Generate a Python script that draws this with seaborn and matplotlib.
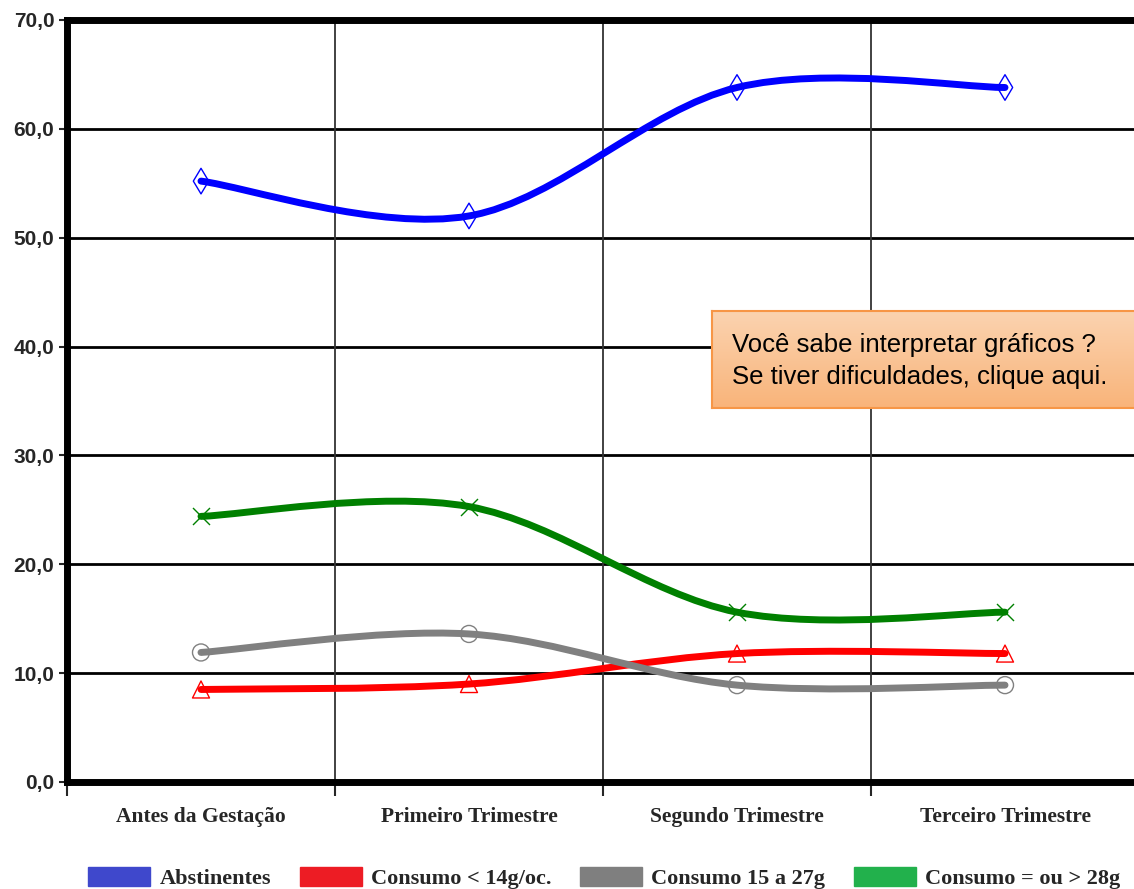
import numpy as np
import pandas as pd
import seaborn as sns
import matplotlib.pyplot as plt
from matplotlib.path import Path
from matplotlib.patches import PathPatch, Rectangle
from matplotlib.colors import LinearSegmentedColormap

# Data
categories = ["Antes da Gestação", "Primeiro Trimestre", "Segundo Trimestre", "Terceiro Trimestre"]
abstinentes = [55.2, 52.0, 63.8, 63.8]
consumo_menor14 = [8.5, 9.0, 11.8, 11.8]
consumo_15_27 = [11.9, 13.6, 8.9, 8.9]
consumo_maior28 = [24.4, 25.3, 15.6, 15.6]
series_names = ["Abstinentes", "Consumo < 14g/oc.", "Consumo 15 a 27g", "Consumo = ou > 28g"]
yticks = [0, 10, 20, 30, 40, 50, 60, 70]

line_colors = ["#0000FF", "#FF0000", "#808080", "#008000"]
legend_colors = ["#3F48CC", "#ED1C24", "#7F7F7F", "#22B14C"]
marker_styles = ["d", "^", "o", "x"]

sns.set_style("white")
plt.rcParams["font.family"] = ["Liberation Sans", "DejaVu Sans"]

fig = plt.figure(figsize=(11.34, 8.89), dpi=100)
ax = fig.add_axes([67 / 1134, 107 / 889, 1067 / 1134, 762 / 889])


def smooth_path(xs, ys):
    # Excel-style smoothed line: Catmull-Rom segments as cubic Beziers
    pts = np.column_stack([xs, ys]).astype(float)
    ext = np.vstack([pts[0], pts, pts[-1]])
    verts = [pts[0]]
    codes = [Path.MOVETO]
    for i in range(1, len(ext) - 2):
        p0, p1, p2, p3 = ext[i - 1], ext[i], ext[i + 1], ext[i + 2]
        verts += [p1 + (p2 - p0) / 6, p2 - (p3 - p1) / 6, p2]
        codes += [Path.CURVE4] * 3
    return Path(verts, codes)


x = np.arange(len(categories))
all_series = [abstinentes, consumo_menor14, consumo_15_27, consumo_maior28]

for vals, col, mk in zip(all_series, line_colors, marker_styles):
    ax.add_patch(PathPatch(smooth_path(x, vals), fill=False, edgecolor=col,
                           lw=5, capstyle="round", zorder=3))
    if mk == "x":
        sns.scatterplot(x=x, y=vals, marker=mk, s=150, color=col, linewidth=1.0,
                        ax=ax, zorder=4, legend=False)
    else:
        sns.scatterplot(x=x, y=vals, marker=mk, s=170 if mk == "d" else 150,
                        facecolors="none", edgecolor=col, linewidth=1.0,
                        ax=ax, zorder=4, legend=False)

ax.set_xlim(-0.5, -0.5 + 1067 / 268)
ax.set_ylim(0, 70)

# grid lines
for yv in yticks[1:-1]:
    ax.axhline(yv, color="black", lw=2, zorder=1)
for xv in [0.5, 1.5, 2.5]:
    ax.axvline(xv, color="#333333", lw=1.3, zorder=1)

for side in ["top", "left", "bottom"]:
    ax.spines[side].set_linewidth(5)
    ax.spines[side].set_color("black")
ax.spines["right"].set_visible(False)

ax.set_yticks(yticks)
ax.set_yticklabels([f"{v},0" for v in yticks], fontsize=15, fontweight="bold",
                   fontfamily="Liberation Sans")
ax.tick_params(axis="y", direction="out", length=6, width=1.5, left=True, pad=3)
ax.set_xticks(x)
ax.set_xticklabels(categories, fontsize=15.5, fontweight="bold",
                   fontfamily="Liberation Serif")
ax.tick_params(axis="x", length=0, pad=18)
ax.set_xticks([-0.5, 0.5, 1.5, 2.5], minor=True)
ax.tick_params(axis="x", which="minor", direction="out", length=10, width=1.5, bottom=True)

# info box with a light vertical gradient
bx0, by0, bw, bh = 712 / 1134, (889 - 408) / 889, (1140 - 712) / 1134, 97 / 889
bax = fig.add_axes([bx0, by0, bw, bh], zorder=5)
grad = np.linspace(0, 1, 100).reshape(-1, 1)
cmap = LinearSegmentedColormap.from_list("box", ["#FBD3B0", "#F9B47A"])
bax.imshow(grad, aspect="auto", cmap=cmap, extent=[0, 1, 0, 1])
bax.set_xticks([])
bax.set_yticks([])
for s in bax.spines.values():
    s.set_color("#F79646")
    s.set_linewidth(1.5)
fig.text(732 / 1134, (889 - 345) / 889, "Você sabe interpretar gráficos ?",
         fontsize=18.5, va="center", ha="left", color="black", zorder=6)
fig.text(732 / 1134, (889 - 377) / 889, "Se tiver dificuldades, clique aqui.",
         fontsize=18.5, va="center", ha="left", color="black", zorder=6)

# legend
handles = [Rectangle((0, 0), 1, 1, facecolor=c, edgecolor=c) for c in legend_colors]
fig.legend(handles, series_names, loc="center", bbox_to_anchor=(0.533, 11 / 889),
           ncol=4, frameon=False, handlelength=2.8, handleheight=0.9,
           columnspacing=1.3, handletextpad=0.4,
           prop={"family": "Liberation Serif", "weight": "bold", "size": 16})

fig.savefig("out.png", dpi=100)
